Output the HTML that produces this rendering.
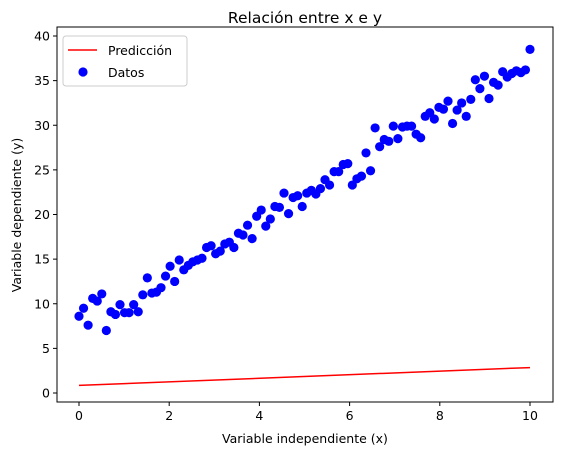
<!DOCTYPE html>
<html><head><meta charset="utf-8"><style>
body{margin:0;background:#fff;}
svg{display:block;font-family:"DejaVu Sans","Liberation Sans",sans-serif;}
</style></head><body>
<svg id="chart" width="562" height="455"></svg>
<script>
const xTicks=[0,2,4,6,8,10];
const yTicks=[0,5,10,15,20,25,30,35,40];
const yData=[8.6,9.5,7.6,10.6,10.3,11.1,7.0,9.1,8.8,9.9,
9.0,9.0,9.9,9.1,11.0,12.9,11.2,11.3,11.8,13.1,
14.2,12.5,14.9,13.8,14.3,14.7,14.9,15.1,16.3,16.5,
15.6,15.9,16.7,16.9,16.3,17.9,17.7,18.8,17.3,19.8,
20.5,18.7,19.5,20.9,20.8,22.4,20.1,21.9,22.1,20.9,
22.4,22.7,22.3,22.9,23.9,23.3,24.8,24.8,25.6,25.7,
23.3,24.0,24.3,26.9,24.9,29.7,27.6,28.4,28.2,29.9,
28.5,29.8,29.9,29.9,29.0,28.6,31.0,31.4,30.7,32.0,
31.8,32.7,30.2,31.7,32.5,31.0,32.9,35.1,34.1,35.5,
33.0,34.8,34.5,36.0,35.4,35.8,36.1,35.9,36.2,38.5];
const predX=[0,10];
const predY=[0.85,2.85];
const NS="http://www.w3.org/2000/svg";
const svg=document.getElementById('chart');
const L=57,R=553,T=27,B=402;
function sx(v){return 79+v*45.1;}
function sy(v){return 393-v*8.925;}
function mk(tag,attrs,parent){const e=document.createElementNS(NS,tag);for(const k in attrs)e.setAttribute(k,attrs[k]);(parent||svg).appendChild(e);return e;}
// title
let t=mk('text',{x:305,y:23,'text-anchor':'middle','font-size':'15.5'});t.textContent='Relación entre x e y';


// pred line
let pl=mk('line',{x1:sx(predX[0]),y1:sy(predY[0]),x2:sx(predX[1]),y2:sy(predY[1]),stroke:'#ff0000','stroke-width':1.5});


// points
const g=mk('g',{});


yData.forEach((v,i)=>{const x=i*10/(yData.length-1);
const c=mk('circle',{cx:sx(x),cy:sy(v),r:4.6,fill:'#0000ff'},g);

});
// frame
let fr=mk('rect',{x:L,y:T,width:R-L,height:B-T,fill:'none',stroke:'#000','stroke-width':1});


xTicks.forEach(v=>{const x=sx(v);mk('line',{x1:x,y1:B,x2:x,y2:B+4,stroke:'#000'});
const tx=mk('text',{x:x,y:B+18,'text-anchor':'middle','font-size':'12.5'});tx.textContent=v;

});
yTicks.forEach(v=>{const y=sy(v);mk('line',{x1:L-4,y1:y,x2:L,y2:y,stroke:'#000'});
const tx=mk('text',{x:L-7,y:y+4.5,'text-anchor':'end','font-size':'12.5'});tx.textContent=v;

});
let xl=mk('text',{x:305,y:443,'text-anchor':'middle','font-size':'12.5'});xl.textContent='Variable independiente (x)';


let yl=mk('text',{x:0,y:0,'text-anchor':'middle','font-size':'12.5',transform:'translate(21,215) rotate(-90)'});yl.textContent='Variable dependiente (y)';


// legend
const lg=mk('g',{});


mk('rect',{x:63,y:36,width:124,height:50,rx:3,fill:'#fff',stroke:'#ccc'},lg);
mk('line',{x1:68,y1:50,x2:97,y2:50,stroke:'#ff0000','stroke-width':1.5},lg);
let l1=mk('text',{x:108,y:55,'font-size':'12.5'},lg);l1.textContent='Predicción';


mk('circle',{cx:83,cy:72,r:4.6,fill:'#0000ff'},lg);
let l2=mk('text',{x:108,y:77,'font-size':'12.5'},lg);l2.textContent='Datos';


</script>
</body></html>
